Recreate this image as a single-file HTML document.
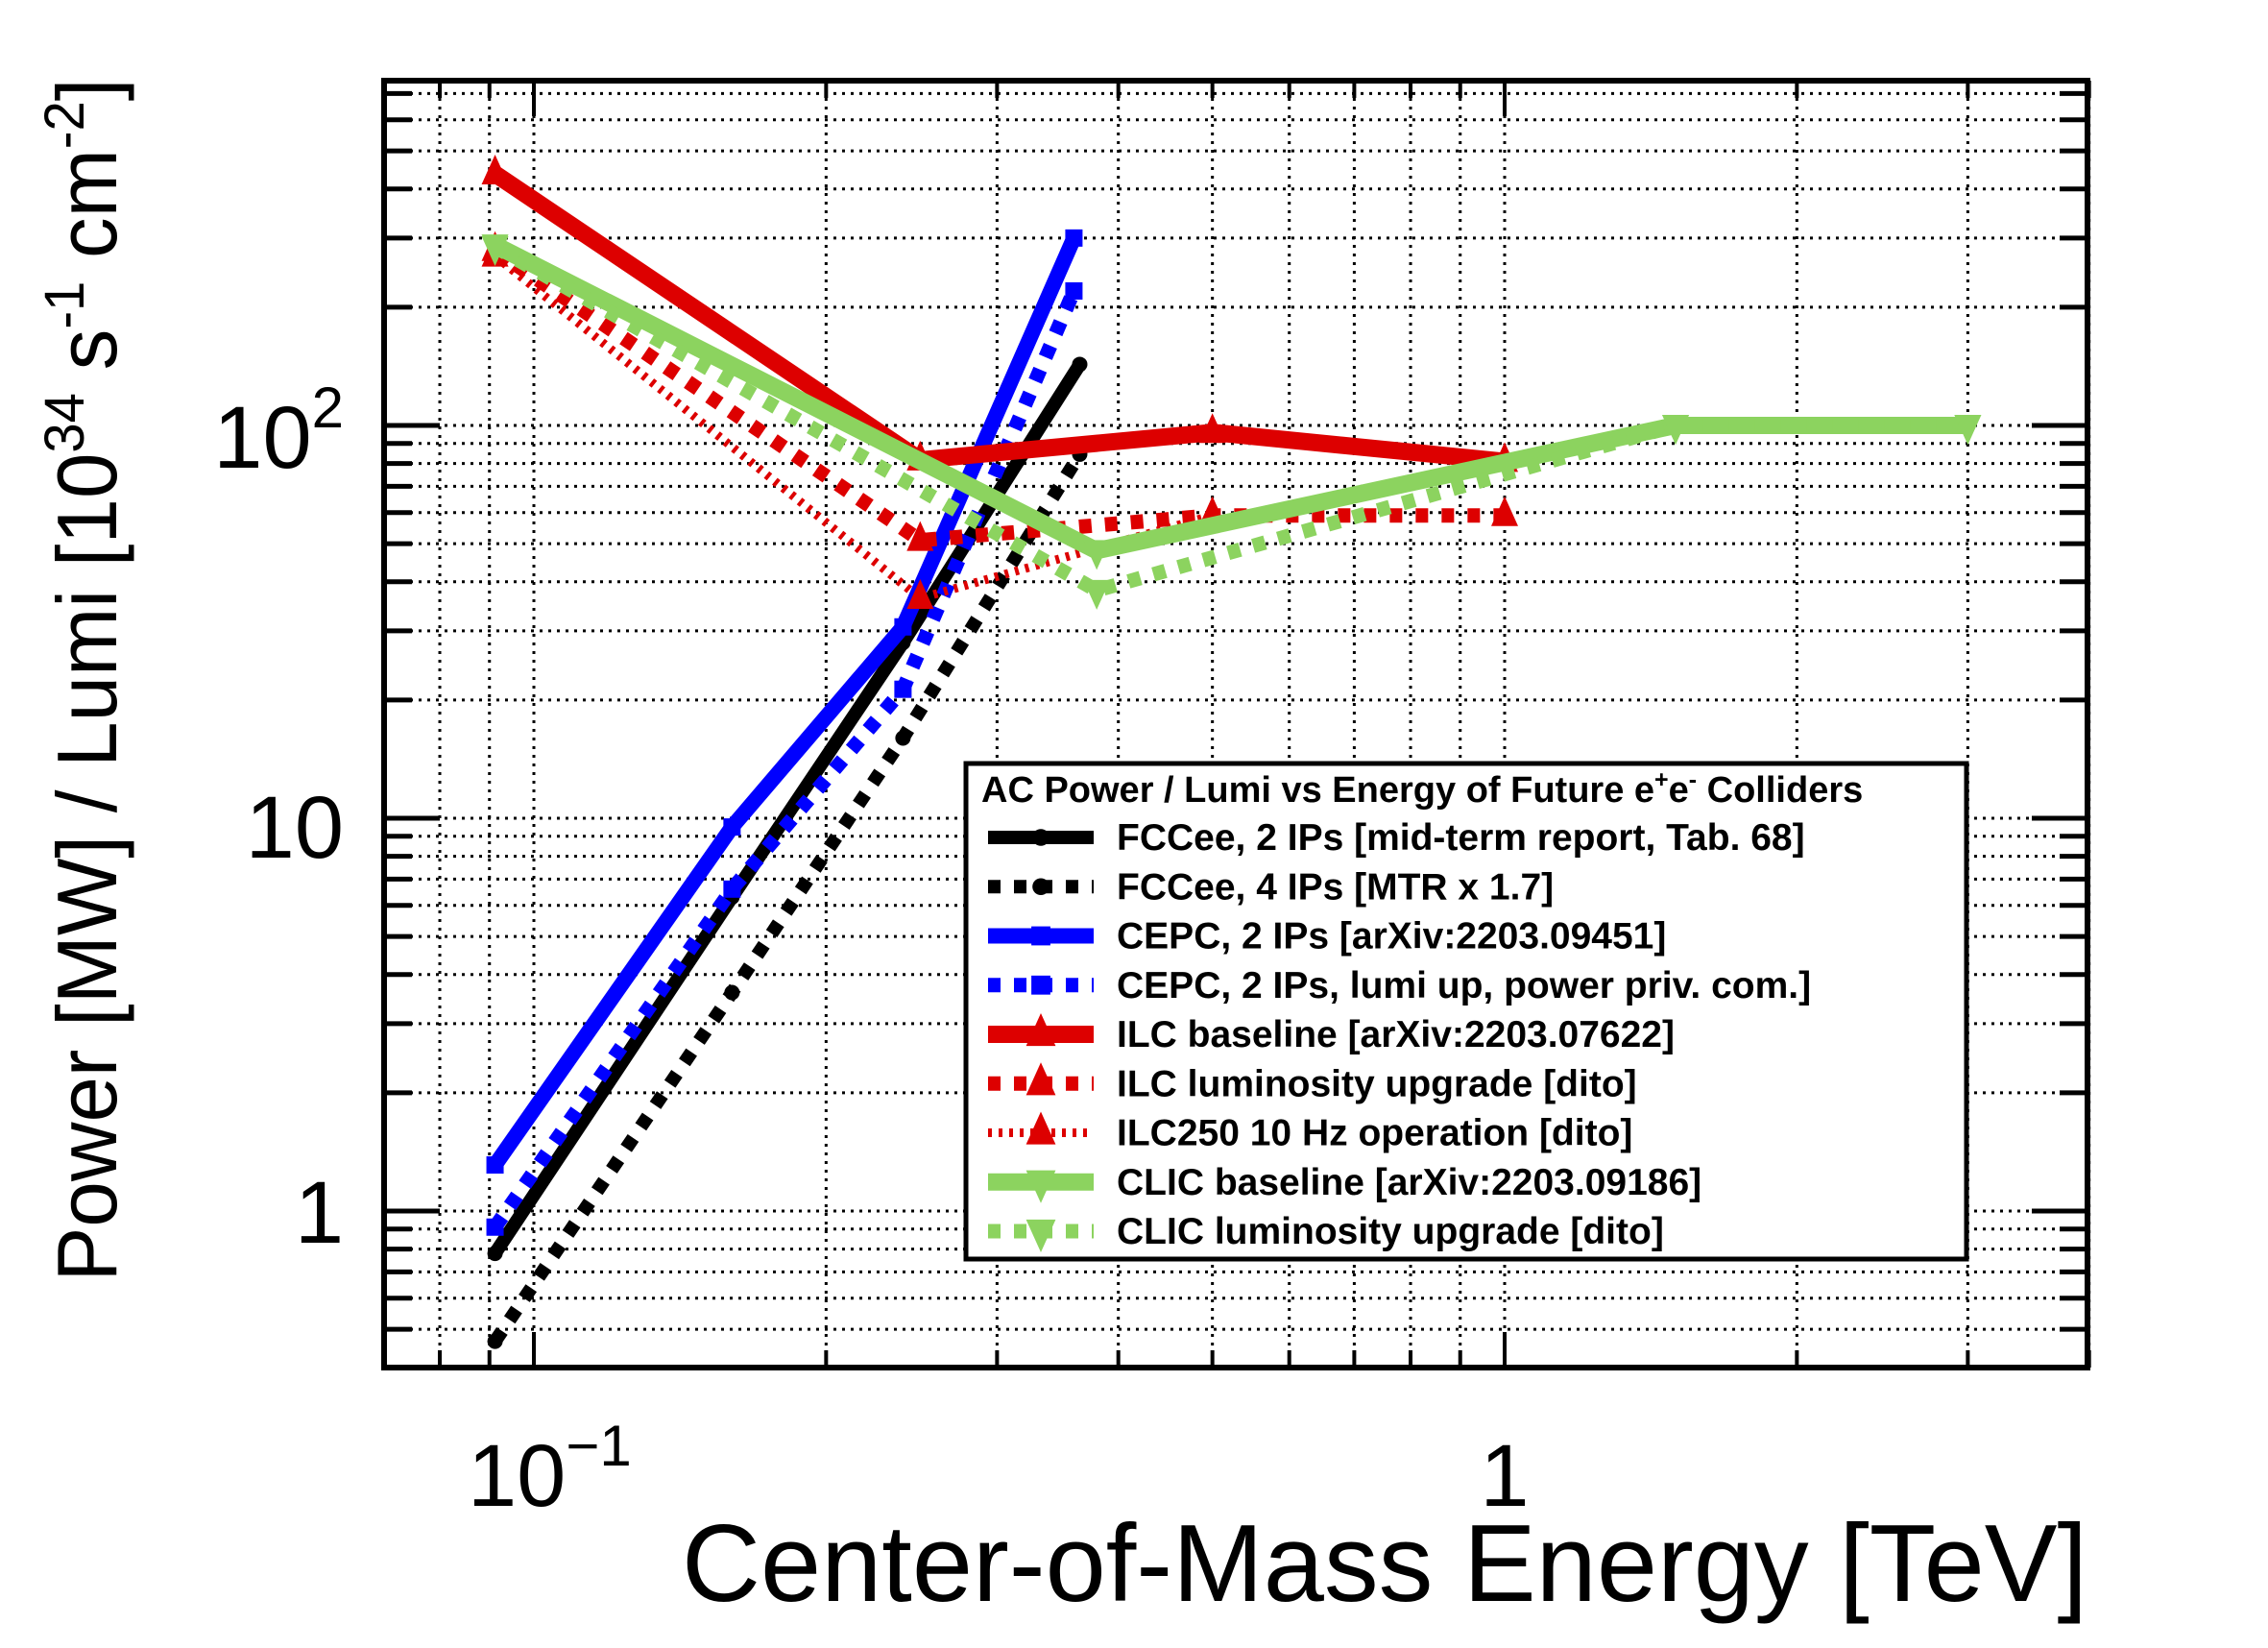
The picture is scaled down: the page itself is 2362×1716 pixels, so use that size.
<!DOCTYPE html>
<html><head><meta charset="utf-8"><style>
html,body{margin:0;padding:0;background:#fff;}
svg{display:block;font-family:"Liberation Sans",Arial,sans-serif;}
</style></head><body>
<svg id="chart" width="2362" height="1716" viewBox="0 0 2362 1716" xmlns="http://www.w3.org/2000/svg">
<rect x="0" y="0" width="2362" height="1716" fill="#fff"/>
<g id="grid"></g>
<g id="series"></g>
<g id="axes"></g>
<g id="legend"></g>
<text x="710" y="1667" font-size="114" textLength="1464" lengthAdjust="spacingAndGlyphs">Center-of-Mass Energy [TeV]</text>
<g transform="translate(121,708) rotate(-90)">
<text x="0" y="0" font-size="88" text-anchor="middle" textLength="1253" lengthAdjust="spacingAndGlyphs">Power [MW] / Lumi [10<tspan font-size="58" dy="-34">34</tspan><tspan dy="34"> s</tspan><tspan font-size="58" dy="-34">-1</tspan><tspan dy="34"> cm</tspan><tspan font-size="58" dy="-34">-2</tspan><tspan dy="34">]</tspan></text>
</g>
</svg>
<script>
// ---- data ----
const xFCC = [0.0912, 0.16, 0.24, 0.365];
const yFCC2 = [0.78, 6.3, 28, 143];
const yFCC4 = [0.466, 3.6, 16, 84.5];
const xCEPC = [0.0912, 0.16, 0.24, 0.36];
const yCEPC = [1.31, 9.5, 30.7, 300];
const yCEPCup = [0.91, 6.6, 21.3, 220];
const xILC = [0.0912, 0.25, 0.5, 1.0];
const yILC = [437, 81.7, 96, 81];
const yILCup = [279, 51, 59, 59];
const xILC10 = [0.0912, 0.25, 0.5];
const yILC10 = [270, 36.3, 59];
const xCLIC = [0.0912, 0.38, 1.5, 3.0];
const yCLIC = [288, 48, 100, 100];
const yCLICup = [285, 38, 100, 100];
const legendLabels = ["FCCee, 2 IPs [mid-term report, Tab. 68]","FCCee, 4 IPs [MTR x 1.7]","CEPC, 2 IPs [arXiv:2203.09451]","CEPC, 2 IPs, lumi up, power priv. com.]","ILC baseline [arXiv:2203.07622]","ILC luminosity upgrade [dito]","ILC250 10 Hz operation [dito]","CLIC baseline [arXiv:2203.09186]","CLIC luminosity upgrade [dito]"];
const xGridVals = [0.08,0.09,0.1,0.2,0.3,0.4,0.5,0.6,0.7,0.8,0.9,1,2,3,4];
const yGridVals = [0.4,0.5,0.6,0.7,0.8,0.9,1,2,3,4,5,6,7,8,9,10,20,30,40,50,60,70,80,90,100,200,300,400,500,600,700];

// ---- axes ----
const L=400,R=2174,T=84,B=1424;
function X(v){return 556+1011*(Math.log10(v)+1);}
function Y(v){return 1261-409*Math.log10(v);}
const NS="http://www.w3.org/2000/svg";
function mk(tag,attrs,parent){const e=document.createElementNS(NS,tag);for(const k in attrs)e.setAttribute(k,attrs[k]);parent.appendChild(e);return e;}
const grid=document.getElementById('grid'),axes=document.getElementById('axes'),ser=document.getElementById('series'),leg=document.getElementById('legend');

xGridVals.forEach(v=>{const x=X(v);
 const g=mk('line',{x1:x,x2:x,y1:T,y2:B,stroke:'#000','stroke-width':3,'stroke-dasharray':'3 6'},grid);
 
 
 const major=(Math.abs(Math.log10(v)-Math.round(Math.log10(v)))<1e-6);
 const len=major?37:18;
 const t1=mk('line',{x1:x,x2:x,y1:B,y2:B-len,stroke:'#000','stroke-width':4},axes);
 
 
 const t2=mk('line',{x1:x,x2:x,y1:T,y2:T+len,stroke:'#000','stroke-width':4},axes);
 
 
});
yGridVals.forEach(v=>{const y=Y(v);
 const g=mk('line',{x1:L,x2:R,y1:y,y2:y,stroke:'#000','stroke-width':3,'stroke-dasharray':'3 6'},grid);
 
 
 const major=(Math.abs(Math.log10(v)-Math.round(Math.log10(v)))<1e-6);
 const len=major?58:29;
 const t1=mk('line',{x1:L,x2:L+len,y1:y,y2:y,stroke:'#000','stroke-width':5},axes);
 
 
 const t2=mk('line',{x1:R,x2:R-len,y1:y,y2:y,stroke:'#000','stroke-width':5},axes);
 
 
});
const frame=mk('rect',{x:L,y:T,width:R-L,height:B-T,fill:'none',stroke:'#000','stroke-width':6},axes);



// tick labels
function lbl(x,y,txt,sup,anchor,name){const t=mk('text',{x:x,y:y,'font-size':92,'text-anchor':anchor},axes);t.textContent=txt;
 if(sup){const s=mk('tspan',{'font-size':60,dy:-42},t);s.textContent=sup;}
 
 }
lbl(487,1568,'10','\u22121','start','x-tick-label-0.1');
lbl(1567,1568,'1',null,'middle','x-tick-label-1');
lbl(358,1294,'1',null,'end','y-tick-label-1');
lbl(358,893,'10',null,'end','y-tick-label-10');
lbl(358,487,'10','2','end','y-tick-label-100');

// ---- series ----
const RED='#dd0000',BLUE='#0000ff',GREEN='#8cd35f',BLK='#000';
const styles=[
 {xs:xFCC,ys:yFCC2,c:BLK,w:14,d:null,m:'circle',name:'series-fccee-2ip'},
 {xs:xFCC,ys:yFCC4,c:BLK,w:14,d:'13 14',m:'circle',name:'series-fccee-4ip'},
 {xs:xCEPC,ys:yCEPC,c:BLUE,w:16,d:null,m:'square',name:'series-cepc'},
 {xs:xCEPC,ys:yCEPCup,c:BLUE,w:15,d:'13 14',m:'square',name:'series-cepc-lumi-up'},
 {xs:xILC,ys:yILC,c:RED,w:18,d:null,m:'tri',name:'series-ilc-baseline'},
 {xs:xILC,ys:yILCup,c:RED,w:15,d:'13 14',m:'tri',name:'series-ilc-lumi-upgrade'},
 {xs:xILC10,ys:yILC10,c:RED,w:9,d:'4 7',m:'tri',name:'series-ilc250-10hz'},
 {xs:xCLIC,ys:yCLIC,c:GREEN,w:18,d:null,m:'tridown',name:'series-clic-baseline'},
 {xs:xCLIC,ys:yCLICup,c:GREEN,w:15,d:'13 14',m:'tridown',name:'series-clic-lumi-upgrade'}
];
function marker(type,x,y,c,parent,s){s=s||1;let e;
 if(type==='circle')e=mk('circle',{cx:x,cy:y,r:8*s,fill:c},parent);
 else if(type==='square')e=mk('rect',{x:x-9*s,y:y-9*s,width:18*s,height:18*s,fill:c},parent);
 else if(type==='tri')e=mk('polygon',{points:`${x},${y-20*s} ${x-14*s},${y+11*s} ${x+14*s},${y+11*s}`,fill:c},parent);
 else e=mk('polygon',{points:`${x},${y+20*s} ${x-14*s},${y-11*s} ${x+14*s},${y-11*s}`,fill:c},parent);
 return e;}
styles.forEach(st=>{
 const g=mk('g',{},ser);
 
 
 const pts=st.xs.map((xv,i)=>X(xv)+','+Y(st.ys[i])).join(' ');
 const a={points:pts,fill:'none',stroke:st.c,'stroke-width':st.w,'stroke-linejoin':'miter'};
 if(st.d)a['stroke-dasharray']=st.d;
 const pl=mk('polyline',a,g);
 
 
 st.xs.forEach((xv,i)=>{const m=marker(st.m,X(xv),Y(st.ys[i]),st.c,g);
  
  });
});

// ---- legend ----
const box=mk('rect',{x:1006,y:795,width:1042,height:516,fill:'#fff',stroke:'#000','stroke-width':5},leg);


const ttl=mk('text',{x:1022,y:835,'font-size':38,'font-weight':'bold'},leg);
ttl.innerHTML='AC Power / Lumi vs Energy of Future e<tspan font-size="25" dy="-15">+</tspan><tspan dy="15">e</tspan><tspan font-size="25" dy="-15">-</tspan><tspan dy="15"> Colliders</tspan>';


styles.forEach((st,i)=>{
 const by=885+i*51.25, cy=by-13;
 const g=mk('g',{},leg);
 
 
 const a={x1:1029,x2:1139,y1:cy,y2:cy,stroke:st.c,'stroke-width':st.w};
 if(st.d)a['stroke-dasharray']=st.d;
 mk('line',a,g);
 marker(st.m,1084,cy,st.c,g,1.1);
 const t=mk('text',{x:1163,y:by,'font-size':39,'font-weight':'bold'},g);
 t.textContent=legendLabels[i];
});
</script>
</body></html>
